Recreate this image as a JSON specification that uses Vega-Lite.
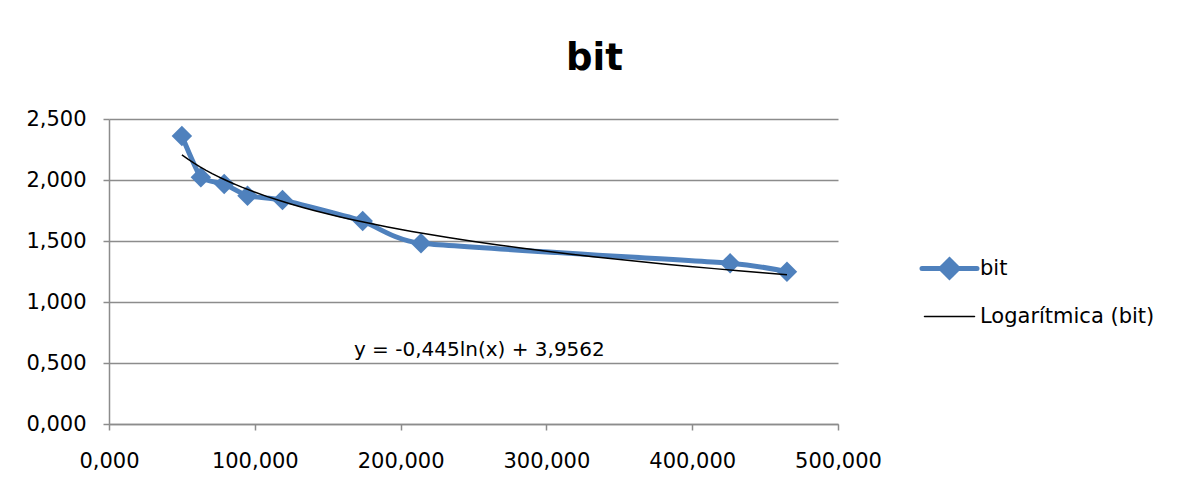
{
  "$schema": "https://vega.github.io/schema/vega-lite/v6.json",
  "autosize": "none",
  "width": 729,
  "height": 305,
  "padding": {"left": 109, "top": 119, "right": 346, "bottom": 65},
  "background": "white",
  "config": {
    "font": "DejaVu Sans",
    "view": {"stroke": null},
    "axis": {"labelFont": "DejaVu Sans", "labelFontSize": 21, "labelColor": "black", "gridColor": "#8c8c8c", "gridWidth": 1.5, "domainColor": "#8c8c8c", "domainWidth": 1.5, "tickColor": "#8c8c8c", "tickWidth": 1.5, "tickSize": 6, "title": null, "labelFlush": false}
  },
  "title": {"text": "bit", "fontSize": 37, "fontWeight": "bold", "font": "DejaVu Sans", "color": "black", "anchor": "middle", "dx": 121, "offset": 30},
  "layer": [
    {
      "data": {"values": [
        {"x": 50, "bit": 2.361, "series": "bit"},
        {"x": 63, "bit": 2.022, "series": "bit"},
        {"x": 79, "bit": 1.967, "series": "bit"},
        {"x": 95, "bit": 1.871, "series": "bit"},
        {"x": 119, "bit": 1.836, "series": "bit"},
        {"x": 174, "bit": 1.664, "series": "bit"},
        {"x": 214, "bit": 1.481, "series": "bit"},
        {"x": 426, "bit": 1.317, "series": "bit"},
        {"x": 465, "bit": 1.248, "series": "bit"}
      ]},
      "encoding": {
        "x": {"field": "x", "type": "quantitative", "scale": {"domain": [0, 500], "nice": false, "zero": true},
          "axis": {"values": [0, 100, 200, 300, 400, 500], "grid": false, "labelPadding": 20, "labelExpr": "replace(format(datum.value, '.3f'), '.', ',')"}},
        "y": {"field": "bit", "type": "quantitative", "scale": {"domain": [0, 2.5], "nice": false},
          "axis": {"values": [0, 0.5, 1, 1.5, 2, 2.5], "grid": true, "labelPadding": 17, "labelExpr": "replace(format(datum.value, '.3f'), '.', ',')"}},
        "color": {"field": "series", "type": "nominal",
          "scale": {"domain": ["bit", "Logarítmica (bit)"], "range": ["#4F81BD", "#000000"]},
          "legend": {"orient": "none", "legendX": 830, "legendY": 139, "title": null, "padding": 0,
            "labelFont": "DejaVu Sans", "labelFontSize": 21, "labelColor": "black", "labelOffset": 20,
            "symbolSize": 2500, "rowPadding": 18, "labelLimit": 300,
            "encode": {"symbols": {"update": {
              "shape": {"signal": "datum.value === 'bit' ? 'M-1.1,0L1.1,0M0,-0.34L0.34,0L0,0.34L-0.34,0Z' : 'M-1,0L1,0'"},
              "strokeWidth": {"signal": "datum.value === 'bit' ? 5 : 1.5"},
              "stroke": {"signal": "datum.value === 'bit' ? '#4F81BD' : '#000000'"},
              "fill": {"signal": "datum.value === 'bit' ? '#4F81BD' : 'transparent'"},
              "strokeCap": {"value": "round"},
              "opacity": {"value": 1}
            }}}}
        }
      },
      "layer": [
        {"mark": {"type": "line", "strokeWidth": 5, "interpolate": "cardinal", "tension": 0.55, "strokeCap": "round", "strokeJoin": "round"}},
        {"mark": {"type": "point", "shape": "diamond", "filled": true, "size": 420, "opacity": 1}},
        {
          "transform": [
            {"regression": "bit", "on": "x", "method": "log"},
            {"calculate": "'Logarítmica (bit)'", "as": "series"}
          ],
          "mark": {"type": "line", "strokeWidth": 1.5}
        }
      ]
    },
    {
      "data": {"values": [{"label": "y = -0,445ln(x) + 3,9562"}]},
      "mark": {"type": "text", "font": "DejaVu Sans", "fontSize": 20, "color": "black", "align": "center", "baseline": "middle"},
      "encoding": {
        "x": {"datum": 254, "type": "quantitative"},
        "y": {"datum": 0.61, "type": "quantitative"},
        "text": {"field": "label", "type": "nominal"}
      }
    }
  ]
}
